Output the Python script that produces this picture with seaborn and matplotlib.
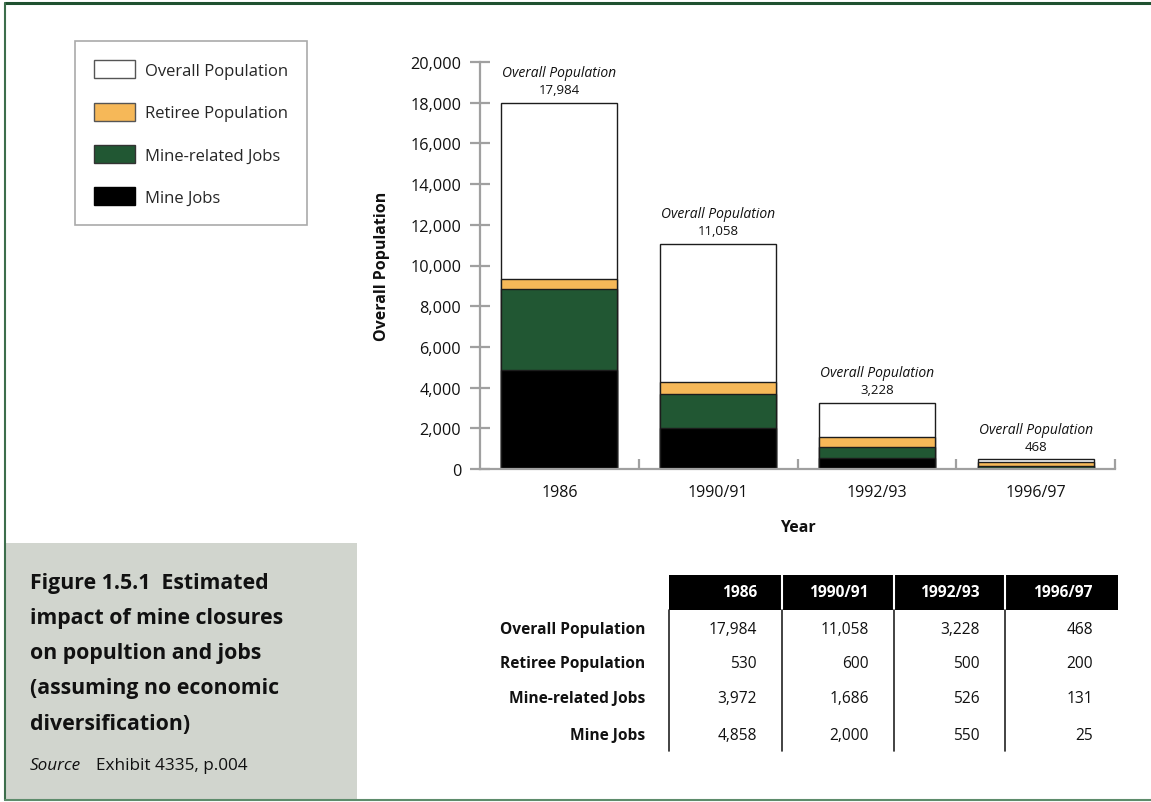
import matplotlib
matplotlib.use("Agg")
import matplotlib.pyplot as plt
import seaborn as sns
import numpy as np
import pandas as pd
from matplotlib.patches import Rectangle, Patch
from matplotlib.lines import Line2D

# ---------------- data ----------------
years = ["1986", "1990/91", "1992/93", "1996/97"]
overall_population = [17984, 11058, 3228, 468]
retiree_population = [530, 600, 500, 200]
mine_related_jobs = [3972, 1686, 526, 131]
mine_jobs = [4858, 2000, 550, 25]
series_names = ["Overall Population", "Retiree Population", "Mine-related Jobs", "Mine Jobs"]
y_ticks = [0, 2000, 4000, 6000, 8000, 10000, 12000, 14000, 16000, 18000, 20000]
title_lines = ["Figure 1.5.1  Estimated", "impact of mine closures", "on popultion and jobs",
               "(assuming no economic", "diversification)"]

# ---------------- style ----------------
sns.set_theme(style="white")
plt.rcParams["font.family"] = ["Open Sans", "DejaVu Sans"]
NARROW = ["Open Sans", "DejaVu Sans"]

C_WHITE = "#ffffff"
C_ORANGE = "#f6b858"
C_GREEN = "#215733"
C_BLACK = "#000000"
C_AXIS = "#a0a0a0"

W, H = 1151, 803
fig = plt.figure(figsize=(W / 100, H / 100), dpi=100)
fig.patch.set_facecolor("white")


def fx(px):
    return px / W


def fy(py):
    return 1 - py / H


# ---------------- chart ----------------
ax = fig.add_axes([fx(480), fy(470), fx(1115) - fx(480), fy(63) - fy(470)])

df = pd.DataFrame({
    "Year": years,
    "overall": overall_population,
    "mine": mine_jobs,
})
df["related_top"] = df["mine"] + np.array(mine_related_jobs)
df["retiree_top"] = df["related_top"] + np.array(retiree_population)

layers = [("overall", C_WHITE), ("retiree_top", C_ORANGE), ("related_top", C_GREEN), ("mine", C_BLACK)]
for col, colr in layers:
    sns.barplot(data=df, x="Year", y=col, color=colr, saturation=1, width=0.73,
                edgecolor="#1c1c1c", linewidth=1.0, ax=ax, errorbar=None)

ax.set_xlim(-0.5, 3.5)
ax.set_ylim(0, 20000)
ax.set_yticks(y_ticks)
ax.set_yticklabels([f"{v:,}" for v in y_ticks])
for s in ["top", "right"]:
    ax.spines[s].set_visible(False)
for s in ["left", "bottom"]:
    ax.spines[s].set_color(C_AXIS)
    ax.spines[s].set_linewidth(1.6)

ax.tick_params(axis="y", direction="inout", length=14, width=1.6, color=C_AXIS,
               labelsize=11.7, pad=6.5, labelcolor="#111111", left=True)
ax.tick_params(axis="x", which="major", length=0, labelsize=11.5, pad=10.5, labelcolor="#111111")
ax.set_xticks([0.5, 1.5, 2.5, 3.5], minor=True)
ax.tick_params(axis="x", which="minor", direction="in", length=7, width=1.6, color=C_AXIS, bottom=True)

ax.set_xlabel("Year", fontsize=11.5, fontweight="bold", labelpad=14, color="#111111")
ax.set_ylabel("Overall Population", fontsize=11.5, fontweight="bold", labelpad=14.5, color="#111111")

for i, v in enumerate(overall_population):
    ax.annotate(f"{v:,}", (i, v), xytext=(0, 5), textcoords="offset points",
                ha="center", va="bottom", fontsize=9.5, color="#111111")
    ax.annotate("Overall Population", (i, v), xytext=(0, 16.5), textcoords="offset points",
                ha="center", va="bottom", fontsize=10, style="italic", color="#111111")

# ---------------- legend ----------------
handles = [
    Patch(facecolor=C_WHITE, edgecolor="#555555", linewidth=1),
    Patch(facecolor=C_ORANGE, edgecolor="#555555", linewidth=1),
    Patch(facecolor=C_GREEN, edgecolor="#333333", linewidth=1),
    Patch(facecolor=C_BLACK, edgecolor="#000000", linewidth=1),
]
leg = fig.legend(handles, series_names, loc="upper left", bbox_to_anchor=(fx(75), fy(42)),
                 frameon=True, fancybox=False, edgecolor="#aaaaaa", framealpha=1,
                 fontsize=12, handlelength=2.45, handleheight=1.3, labelspacing=1.42,
                 borderpad=1.15, handletextpad=0.6, borderaxespad=0)
leg.get_frame().set_linewidth(1.2)

# ---------------- frame lines ----------------
fig.add_artist(Line2D([fx(5), 1], [fy(4), fy(4)], color="#1f5130", lw=2.2))
fig.add_artist(Line2D([fx(5), fx(5)], [fy(4), fy(801)], color="#3d6e4c", lw=1.5))
fig.add_artist(Line2D([fx(5), 1], [fy(801), fy(801)], color="#5e8c6c", lw=1.5))

# ---------------- caption box ----------------
fig.add_artist(Rectangle((fx(6), fy(800)), fx(357) - fx(6), fy(544) - fy(800),
                         facecolor="#d1d5ce", edgecolor="none"))
for k, line in enumerate(title_lines):
    fig.text(fx(30), fy(584 + 35 * k), line, fontsize=15.3, fontweight="bold",
             ha="left", va="center", color="#111111")
fig.text(fx(30), fy(766), "Source", fontsize=12.3, style="italic", ha="left", va="center", color="#111111")
fig.text(fx(96), fy(766), "Exhibit 4335, p.004", fontsize=12.3, ha="left", va="center", color="#111111")

# ---------------- table ----------------
col_edges = [669, 782, 894, 1005, 1118]
head_top, head_bot = 576, 611
row_centers = [630, 664, 699, 736]
table_rows = [overall_population, retiree_population, mine_related_jobs, mine_jobs]

fig.add_artist(Rectangle((fx(col_edges[0]), fy(head_bot)), fx(col_edges[-1]) - fx(col_edges[0]),
                         fy(head_top) - fy(head_bot), facecolor="black", edgecolor="none"))
for j, yr in enumerate(years):
    if j > 0:
        fig.add_artist(Line2D([fx(col_edges[j])] * 2, [fy(head_top), fy(head_bot)], color="white", lw=1.5))
    fig.add_artist(Line2D([fx(col_edges[j])] * 2, [fy(head_bot), fy(752)], color="#222222", lw=1.2))
    fig.text(fx(col_edges[j + 1] - 25), fy((head_top + head_bot) / 2), yr, family=NARROW,
             fontsize=11.2, fontweight="bold", color="white", ha="right", va="center")

for r, (name, vals) in enumerate(zip(series_names, table_rows)):
    fig.text(fx(645), fy(row_centers[r]), name, family=NARROW, fontsize=11.2, fontweight="bold",
             ha="right", va="center", color="#111111")
    for j, v in enumerate(vals):
        fig.text(fx(col_edges[j + 1] - 25), fy(row_centers[r]), f"{v:,}", family=NARROW,
                 fontsize=11.2, ha="right", va="center", color="#111111")

fig.savefig("out.png", dpi=100, facecolor="white")
